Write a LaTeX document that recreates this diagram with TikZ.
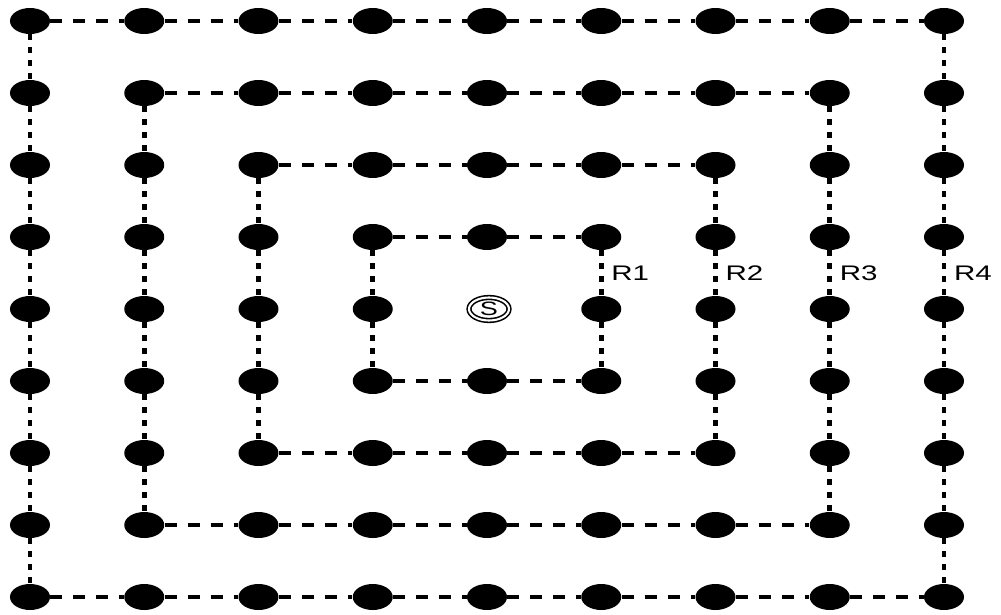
\documentclass[tikz,border=0pt]{standalone}
\usepackage{fontspec}
\setmainfont{Liberation Sans}
\usetikzlibrary{shapes.geometric}

\begin{document}
\begin{tikzpicture}[
  x=0.02cm, y=-0.02cm,
  dot/.style={ellipse, fill=black, inner sep=0pt,
              minimum width=0.8cm, minimum height=0.52cm},
  hlink/.style={line width=2.4pt, dash pattern=on 0.24cm off 0.22cm},
  vlink/.style={line width=2.6pt, dash pattern=on 0.12cm off 0.14cm},
  ringlbl/.style={anchor=west, inner sep=1pt, font=\fontsize{12}{14}\selectfont},
  src/.style={ellipse, draw, double, line width=0.9pt, double distance=1.2pt,
              inner sep=0pt, minimum width=0.8cm, minimum height=0.46cm,
              font=\fontsize{11}{12}\selectfont}
]
\useasboundingbox (0,0) rectangle (1001,615);

%--- Grid of sensor nodes (all but the centre) ---
\foreach \c in {0,...,8} {
  \foreach \r in {0,...,8} {
    \pgfmathtruncatemacro\d{max(abs(\c-4),abs(\r-4))}
    \ifnum\d>0
      \node[dot] (n-\c-\r) at (30+114.25*\c, 21+72*\r) {};
    \fi
  }
}

%--- Source ---
\node[src] (src) at (489,309) {\scalebox{1.4}[1]{S}};

%--- Rings ---
\foreach \k in {1,...,4} {
  \pgfmathtruncatemacro\lo{4-\k}
  \pgfmathtruncatemacro\hi{4+\k}
  \pgfmathtruncatemacro\last{4+\k-1}
  \foreach \i in {\lo,...,\last} {
    \pgfmathtruncatemacro\j{\i+1}
    \draw[hlink] (n-\i-\lo) -- (n-\j-\lo);
    \draw[hlink] (n-\i-\hi) -- (n-\j-\hi);
    \draw[vlink] (n-\lo-\i) -- (n-\lo-\j);
    \draw[vlink] (n-\hi-\i) -- (n-\hi-\j);
  }
  % ring label
  \node[ringlbl] (lblR\k) at (30+114.25*\hi+8, 273) {\scalebox{1.4}[1]{R\k}};
}

\end{tikzpicture}
\end{document}
